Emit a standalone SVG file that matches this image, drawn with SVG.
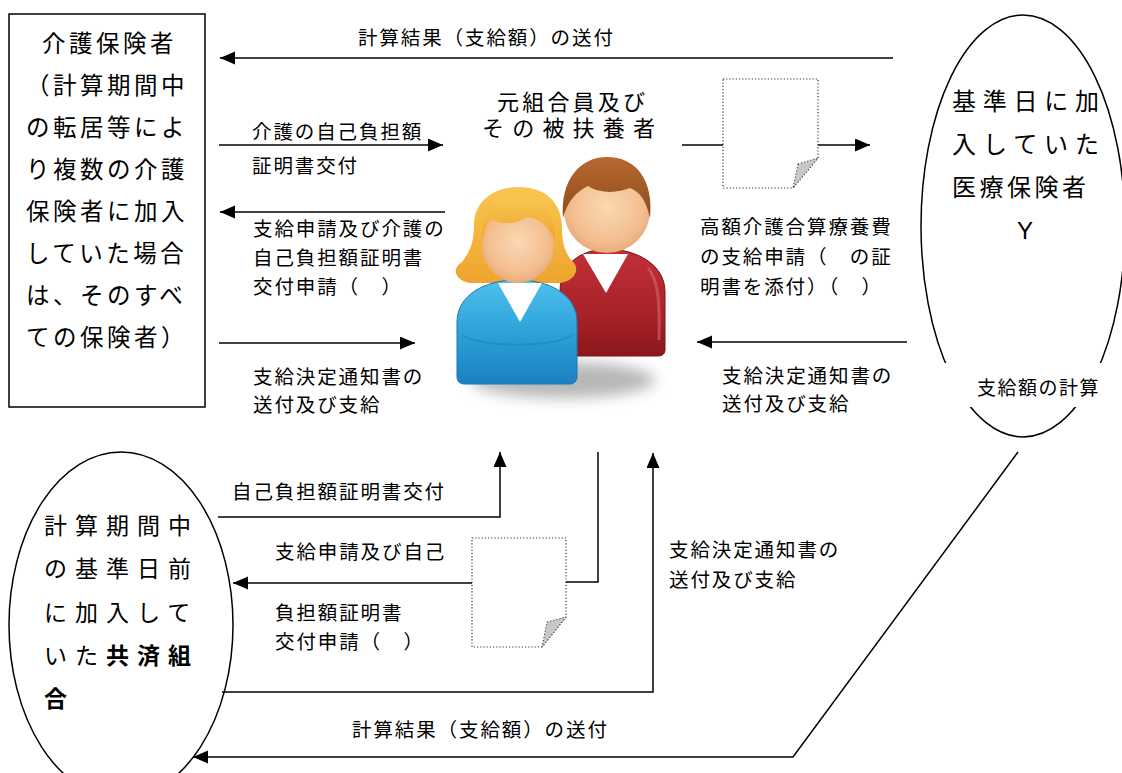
<svg xmlns="http://www.w3.org/2000/svg" width="1122" height="773" viewBox="0 0 1122 773">
<defs>
<style>
  text { font-family: "Liberation Sans", "Noto Sans CJK JP", sans-serif; fill: #000; }
  .lbl { font-size: 19.5px; letter-spacing: 1.9px; }
  .big { font-size: 23.5px; }
  .conn { fill: none; stroke: #000; stroke-width: 1.5; }
  .shape { fill: #fff; stroke: #000; stroke-width: 1.5; }
  .doc { fill: #fff; stroke: #333; stroke-width: 1.2; stroke-dasharray: 1.2 2; }
  .fold { fill: #c8c8c8; stroke: #333; stroke-width: 1; stroke-dasharray: 1.2 2; }
  .b { font-weight: bold; }
</style>
<marker id="arrow" markerUnits="userSpaceOnUse" markerWidth="16" markerHeight="14" refX="15" refY="6.5" orient="auto">
  <path d="M0,0 L15,6.5 L0,13 Z" fill="#000"/>
</marker>
<linearGradient id="gBlue" x1="0" y1="0" x2="0" y2="1">
  <stop offset="0" stop-color="#4fc0ec"/>
  <stop offset="0.55" stop-color="#2b9fd6"/>
  <stop offset="1" stop-color="#1b80c0"/>
</linearGradient>
<linearGradient id="gRed" x1="0" y1="0" x2="0" y2="1">
  <stop offset="0" stop-color="#c23038"/>
  <stop offset="0.6" stop-color="#a92229"/>
  <stop offset="1" stop-color="#8a171c"/>
</linearGradient>
<radialGradient id="gFace" cx="0.5" cy="0.45" r="0.6">
  <stop offset="0" stop-color="#fbd8b4"/>
  <stop offset="0.7" stop-color="#f3be8e"/>
  <stop offset="1" stop-color="#e6a472"/>
</radialGradient>
<linearGradient id="gHairW" x1="0" y1="0" x2="0" y2="1">
  <stop offset="0" stop-color="#f9c650"/>
  <stop offset="1" stop-color="#eea42e"/>
</linearGradient>
<linearGradient id="gHairM" x1="0" y1="0" x2="0" y2="1">
  <stop offset="0" stop-color="#b8692e"/>
  <stop offset="1" stop-color="#8d4c1e"/>
</linearGradient>
<filter id="soft" x="-30%" y="-80%" width="160%" height="260%">
  <feGaussianBlur stdDeviation="7"/>
</filter>
</defs>

<!-- long-term care insurers -->
<g id="node-kaigo">
  <rect class="shape" x="9" y="14" width="196" height="393"/>
  <g class="big" style="letter-spacing:3.5px">
    <text x="42" y="52">介護保険者</text>
    <text x="26" y="94">（計算期間中</text>
    <text x="26" y="136">の転居等によ</text>
    <text x="26" y="178">り複数の介護</text>
    <text x="26" y="220">保険者に加入</text>
    <text x="26" y="262">していた場合</text>
    <text x="26" y="304">は、そのすべ</text>
    <text x="26" y="346">ての保険者）</text>
  </g>
</g>

<!-- health insurer on the reference date -->
<g id="node-iryo">
  <ellipse class="shape" cx="1023" cy="226" rx="102" ry="211"/>
  <rect x="925" y="363" width="197" height="44" fill="#fff"/>
  <g style="font-size:24px">
    <text x="952" y="110" textLength="147">基準日に加</text>
    <text x="952" y="153" textLength="147">入していた</text>
    <text x="952" y="196" textLength="134">医療保険者</text>
    <text x="1025" y="239" text-anchor="middle">Y</text>
  </g>
  <text x="977" y="395" style="font-size:19px;letter-spacing:1.5px">支給額の計算</text>
</g>

<!-- mutual aid association before the reference date -->
<g id="node-kyosai">
  <ellipse class="shape" cx="121" cy="625" rx="112" ry="173"/>
  <g style="font-size:23px;letter-spacing:8px">
    <text x="44" y="534">計算期間中</text>
    <text x="44" y="577">の基準日前</text>
    <text x="44" y="621">に加入して</text>
    <text x="44" y="664">いた<tspan class="b">共済組</tspan></text>
    <text x="44" y="707" class="b">合</text>
  </g>
</g>

<!-- former member and dependants -->
<g id="node-member">
  <g style="font-size:22px">
    <text x="497" y="110" textLength="148">元組合員及び</text>
    <text x="482" y="136" textLength="173">その被扶養者</text>
  </g>
  <ellipse cx="563" cy="380" rx="92" ry="18" fill="#9a9a9a" opacity="0.7" filter="url(#soft)"/>
  <!-- man -->
  <path d="M560,350 L560,292 C560,264 580,250 606,249 C636,249 665,264 665,292 L665,350 C665,354 662,356 658,356 L566,356 C562,356 560,354 560,350 Z" fill="url(#gRed)" stroke="#7e1418" stroke-width="1"/>
  <path d="M648,268 C658,280 660,300 659,340" fill="none" stroke="#d9646a" stroke-width="3" opacity="0.6"/>
  <polygon points="583,254 628,254 606,293" fill="#fff"/>
  <ellipse cx="607" cy="211" rx="43" ry="42" fill="url(#gFace)"/>
  <path d="M563,218 C560,180 580,157 607,157 C636,157 654,180 650,218 C646,200 640,192 630,188 C618,193 600,194 588,186 C575,192 567,203 563,218 Z" fill="url(#gHairM)"/>
  <!-- woman -->
  <path d="M470,283 C455,281 451,268 462,262 C471,251 474,240 474,225 C474,201 494,187 518,187 C545,187 562,202 562,228 C562,245 566,255 574,263 C581,272 571,284 556,283 Z" fill="url(#gHairW)"/>
  <path d="M457,377 L457,322 C457,295 485,280 517,280 C550,280 577,295 577,322 L577,377 C577,381 574,384 570,384 L464,384 C460,384 457,381 457,377 Z" fill="url(#gBlue)" stroke="#1a78b0" stroke-width="1"/>
  <path d="M462,335 C480,348 555,348 572,335" fill="none" stroke="#1e86c4" stroke-width="2" opacity="0.7"/>
  <polygon points="498,283 542,283 520,322" fill="#fff"/>
  <ellipse cx="518" cy="245" rx="36" ry="38" fill="url(#gFace)"/>
  <path d="M482,242 C480,211 498,197 518,197 C540,197 556,211 555,240 C548,226 540,219 528,217 C515,225 500,225 490,219 C486,226 483,233 482,242 Z" fill="url(#gHairW)"/>
</g>

<!-- certificate documents -->
<g id="doc-top">
  <path class="doc" d="M723,79 H818 V158 L793,188 H723 Z"/>
  <polygon class="fold" points="798,164 818,158 793,188"/>
</g>
<g id="doc-bottom">
  <path class="doc" d="M472,538 H566 V617 L542,647 H472 Z"/>
  <polygon class="fold" points="547,622 566,617 542,647"/>
</g>

<!-- connectors -->
<g id="connectors">
  <line class="conn" x1="893" y1="58" x2="220" y2="58" marker-end="url(#arrow)"/>
  <line class="conn" x1="219" y1="145" x2="443" y2="145" marker-end="url(#arrow)"/>
  <line class="conn" x1="445" y1="212" x2="220" y2="212" marker-end="url(#arrow)"/>
  <line class="conn" x1="219" y1="343" x2="415" y2="343" marker-end="url(#arrow)"/>
  <line class="conn" x1="682" y1="145" x2="723" y2="145"/>
  <line class="conn" x1="818" y1="145" x2="870" y2="145" marker-end="url(#arrow)"/>
  <line class="conn" x1="907" y1="342" x2="697" y2="342" marker-end="url(#arrow)"/>
  <polyline class="conn" points="218,517 500,517 500,452" marker-end="url(#arrow)"/>
  <polyline class="conn" points="598,452 598,582 566,582"/>
  <line class="conn" x1="472" y1="583" x2="233" y2="583" marker-end="url(#arrow)"/>
  <polyline class="conn" points="222,692 653,692 653,453" marker-end="url(#arrow)"/>
  <polyline class="conn" points="1018,452 793,757 193,757" marker-end="url(#arrow)"/>
</g>

<!-- connector labels -->
<g id="labels" class="lbl">
  <text x="358" y="45">計算結果（支給額）の送付</text>
  <text x="252" y="139">介護の自己負担額</text>
  <text x="252" y="173">証明書交付</text>
  <text x="253" y="236">支給申請及び介護の</text>
  <text x="253" y="265">自己負担額証明書</text>
  <text x="253" y="294">交付申請（　）</text>
  <text x="253" y="384">支給決定通知書の</text>
  <text x="253" y="412">送付及び支給</text>
  <text x="700" y="234">高額介護合算療養費</text>
  <text x="700" y="264">の支給申請（　の証</text>
  <text x="700" y="294">明書を添付）（　）</text>
  <text x="722" y="383">支給決定通知書の</text>
  <text x="722" y="411">送付及び支給</text>
  <text x="232" y="499">自己負担額証明書交付</text>
  <text x="275" y="559">支給申請及び自己</text>
  <text x="275" y="620">負担額証明書</text>
  <text x="275" y="649">交付申請（　）</text>
  <text x="669" y="557">支給決定通知書の</text>
  <text x="669" y="587">送付及び支給</text>
  <text x="352" y="737">計算結果（支給額）の送付</text>
</g>
</svg>
